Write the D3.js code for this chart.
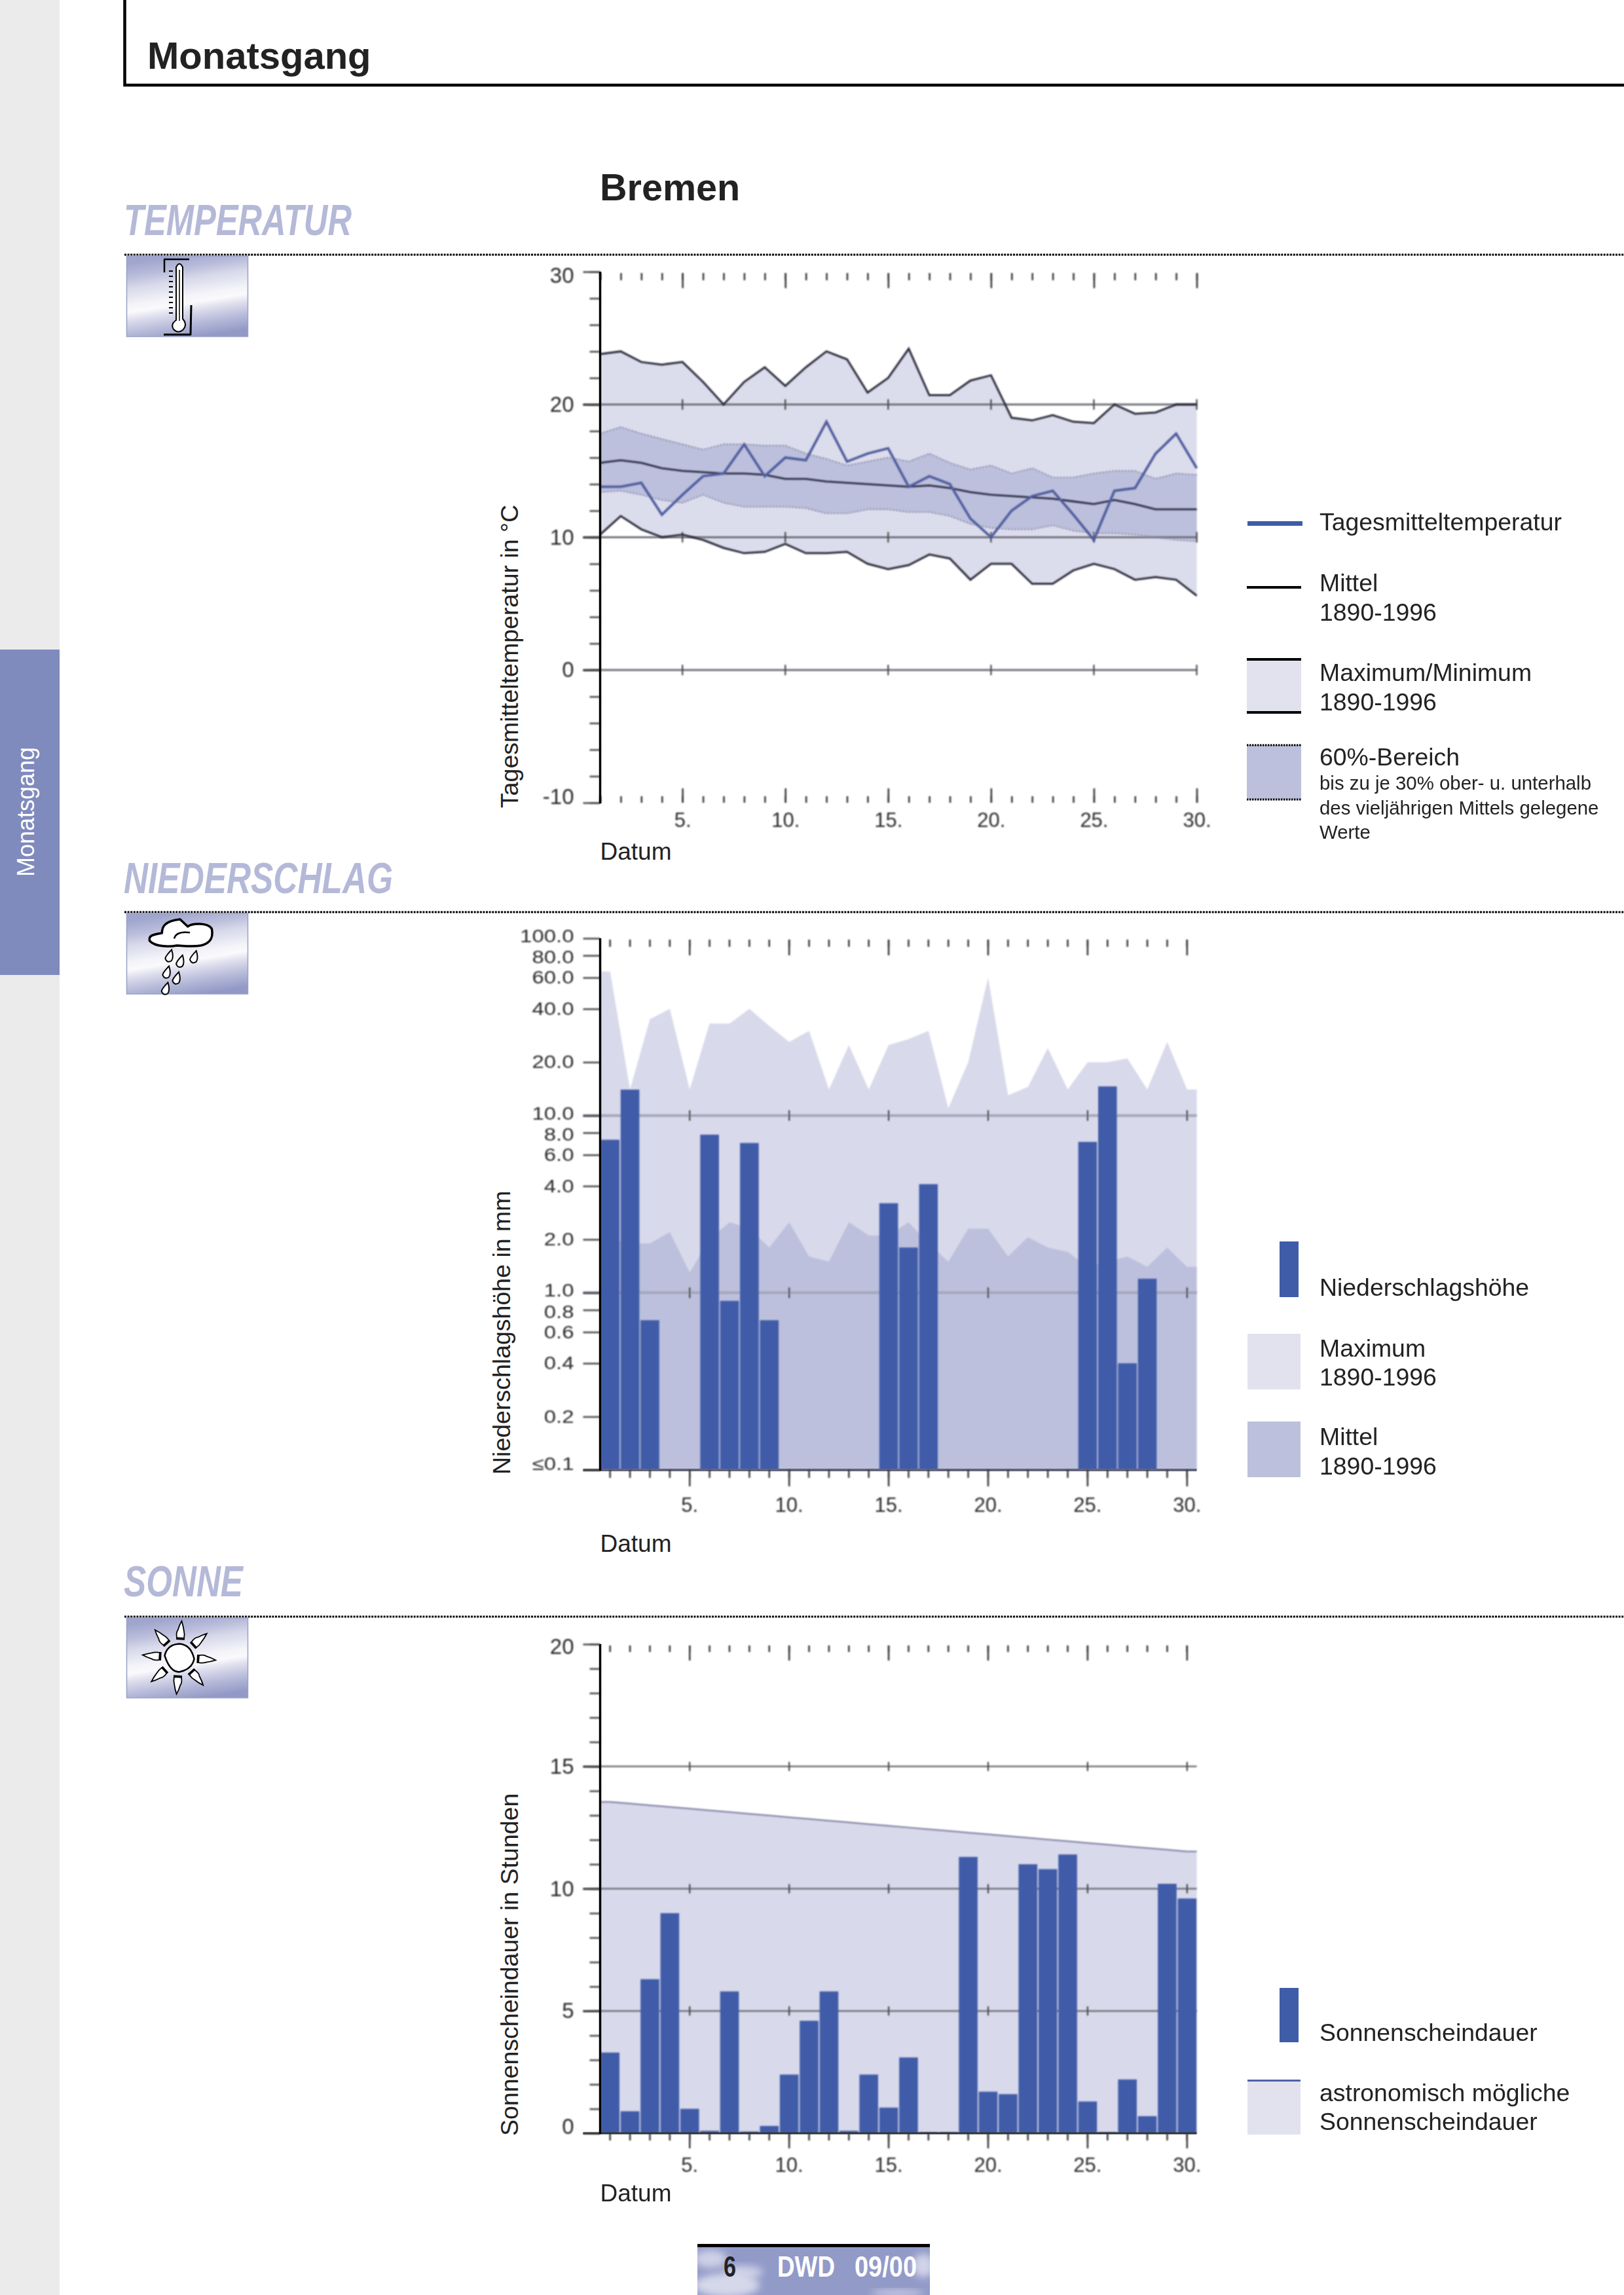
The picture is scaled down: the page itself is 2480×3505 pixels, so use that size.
<!DOCTYPE html>
<html><head><meta charset="utf-8">
<script src="https://cdn.jsdelivr.net/npm/d3@7/dist/d3.min.js"></script>
<style>html,body{margin:0;padding:0;background:#fff}svg{display:block}text{font-family:"Liberation Sans",Arial,sans-serif}</style>
</head><body><div id="c"></div>
<script>
const days=d3.range(1,31);
const majorDays=[5,10,15,20,25,30];
const tempMax=[23.8,24.0,23.2,23.0,23.2,21.7,20.0,21.7,22.8,21.4,22.8,24.0,23.4,20.9,22.0,24.2,20.7,20.7,21.8,22.2,19.0,18.8,19.2,18.7,18.6,20.0,19.3,19.4,20.0,20.0];
const tempMin=[10.2,11.6,10.6,10.0,10.2,9.8,9.2,8.8,8.9,9.5,8.8,8.8,8.9,8.0,7.6,7.9,8.7,8.4,6.8,8.0,8.0,6.5,6.5,7.5,8.0,7.6,6.8,7.0,6.8,5.6];
const tempUpper=[17.8,18.3,17.8,17.4,17.0,16.6,17.0,17.0,16.9,16.9,16.3,15.9,15.4,15.7,16.0,15.7,16.3,15.6,15.1,15.4,14.8,15.2,14.5,14.5,14.8,15.0,15.0,14.4,14.8,14.7];
const tempLower=[13.4,13.5,13.2,12.8,12.6,13.2,12.6,12.3,12.3,12.3,12.2,11.8,11.8,12.1,12.1,11.9,11.9,11.6,11.0,10.7,10.6,10.6,10.9,10.5,10.3,10.3,10.2,10.0,9.8,9.7];
const tempMean=[15.6,15.8,15.6,15.2,15.0,14.9,14.8,14.8,14.7,14.4,14.4,14.2,14.1,14.0,13.9,13.8,13.9,13.7,13.4,13.2,13.1,13.0,12.9,12.7,12.5,12.8,12.5,12.1,12.1,12.1];
const tempDaily=[13.8,13.8,14.1,11.7,13.2,14.6,14.8,17.0,14.6,16.0,15.8,18.7,15.7,16.3,16.7,13.8,14.6,14.0,11.4,10.0,12.0,13.1,13.5,11.7,9.8,13.5,13.7,16.3,17.8,15.2];
const precipMax=[65,14,35,40,14,33,33,40,32,26,30,14,25,14,25,27,30,11,20,60,13,14.5,24,14,20,20,21,14,26,14];
const precipMean=[2.0,1.9,1.9,2.2,1.3,2.0,2.5,2.3,1.8,2.5,1.6,1.5,2.5,2.1,2.1,2.5,1.9,1.5,2.3,2.3,1.6,2.06,1.8,1.7,1.4,1.5,1.6,1.4,1.8,1.4];
const precipBars=[7.3,14,0.7,null,null,7.8,0.9,7.0,0.7,null,null,null,null,null,3.2,1.8,4.1,null,null,null,null,null,null,null,7.1,14.6,0.4,1.2,null,null];
const sunBars=[3.3,0.9,6.3,9.0,1.0,0.1,5.8,0.07,0.3,2.4,4.6,5.8,0.1,2.4,1.05,3.1,0.05,0.05,11.3,1.7,1.6,11.0,10.8,11.4,1.3,0.05,2.2,0.7,10.2,9.6];
const sunAstro=[13.55,13.48,13.41,13.34,13.27,13.2,13.13,13.06,12.99,12.92,12.85,12.78,12.71,12.64,12.57,12.5,12.43,12.36,12.29,12.22,12.15,12.08,12.01,11.94,11.87,11.8,11.73,11.66,11.59,11.52];
const tempTicks=[-10,0,10,20,30];
const tempMinor=d3.range(-10,31,2);
const tempGrid=[0,10,20];
const precipTicks=[0.1,0.2,0.4,0.6,0.8,1,2,4,6,8,10,20,40,60,80,100];
const precipGrid=[1,10];
const sunTicks=[0,5,10,15,20];
const sunMinor=d3.range(0,21);
const sunGrid=[5,10,15];

const C={band:'#bcc0dc',light:'#dcddec',legend:'#e2e2ee',bar:'#3f5ca8',head:'#b5b9d8',tab:'#7f8abd',grid:'#70707a'};
const W=2480,H=3505,axisX=916.5,rightX=1827.5;
const svg=d3.select('#c').append('svg').attr('width',W).attr('height',H).attr('viewBox',`0 0 ${W} ${H}`);
const defs=svg.append('defs');
const blur=defs.append('filter').attr('id','soft').attr('x','-5%').attr('y','-5%').attr('width','110%').attr('height','110%');
blur.append('feGaussianBlur').attr('stdDeviation',0.8);
const blurBig=defs.append('filter').attr('id','cloudy').attr('x','-30%').attr('y','-30%').attr('width','160%').attr('height','160%');
blurBig.append('feGaussianBlur').attr('stdDeviation',6);
const grad=defs.append('linearGradient').attr('id','icon').attr('x1',0.38).attr('y1',0).attr('x2',0.62).attr('y2',1);
[[0,'#a0a5cd'],[0.16,'#b9bcda'],[0.3,'#d8d9ea'],[0.5,'#f4f4f9'],[0.58,'#fafafd'],[0.68,'#dcdcec'],[0.84,'#b4b8d8'],[1,'#9299c6']].forEach(s=>grad.append('stop').attr('offset',s[0]).attr('stop-color',s[1]));

function T(g,x,y,s,size,o={}){
  const t=g.append('text').attr('x',x).attr('y',y).attr('font-size',size).attr('fill',o.fill||'#222').text(s);
  if(o.weight)t.attr('font-weight',o.weight);
  if(o.italic)t.attr('font-style','italic');
  if(o.anchor)t.attr('text-anchor',o.anchor);
  if(o.len)t.attr('textLength',o.len).attr('lengthAdjust','spacingAndGlyphs');
  if(o.rotate)t.attr('transform',`rotate(-90 ${x} ${y})`);
  return t;
}
// page furniture
svg.append('rect').attr('x',0).attr('y',0).attr('width',91).attr('height',H).attr('fill','#ebebeb');
svg.append('rect').attr('x',0).attr('y',992).attr('width',91).attr('height',497).attr('fill',C.tab);
T(svg,52,1339,'Monatsgang',36,{fill:'#fff',rotate:true});
svg.append('path').attr('d',`M190.5 0V130H${W}`).attr('fill','none').attr('stroke','#000').attr('stroke-width',4.5);
T(svg,225,105,'Monatsgang',58,{weight:'bold'});
T(svg,916,306,'Bremen',57.5,{weight:'bold'});
[['TEMPERATUR',359,348,389],['NIEDERSCHLAG',1364,411,1393],['SONNE',2438,182,2469]].forEach(([s,y,len,ly])=>{
  T(svg,189,y,s,66,{fill:C.head,weight:'bold',italic:true,len});
  svg.append('line').attr('x1',190).attr('x2',W).attr('y1',ly).attr('y2',ly).attr('stroke','#000').attr('stroke-width',3).attr('stroke-dasharray','3 1.6');
});
// icons
function iconBox(y0,h){return svg.append('rect').attr('x',193.5).attr('y',y0).attr('width',185).attr('height',h).attr('fill','url(#icon)').attr('stroke','#9aa0c8').attr('stroke-width',1.5);}
iconBox(391,123);iconBox(1395,123);iconBox(2471,122);
function P(d,fill,sw){return svg.append('path').attr('d',d).attr('fill',fill||'none').attr('stroke','#000').attr('stroke-width',sw==null?2.5:sw).attr('stroke-linejoin','round');}
// thermometer
P('M289 396H251V416');P('M292 466L291 511H250',null,3);
P('M269 489V408Q274 398 279 408V487Q287 496 279 504Q272 510 265 503Q260 495 269 489Z','#fff',2);
P('M274 412V490',null,1.5);
d3.range(9).forEach(i=>svg.append('line').attr('x1',258).attr('x2',264).attr('y1',414+i*8).attr('y2',414+i*8).attr('stroke','#000').attr('stroke-width',2));
// cloud
const cl=(x,y)=>`${x/3+160} ${y/3+1290}`;
P(`M${cl(205,430)}C${cl(205,415)} ${cl(230,410)} ${cl(262,405)}C${cl(262,380)} ${cl(270,350)} ${cl(345,342)}L${cl(380,375)}C${cl(400,360)} ${cl(470,355)} ${cl(490,385)}C${cl(497,420)} ${cl(490,450)} ${cl(440,462)}C${cl(400,470)} ${cl(350,462)} ${cl(330,462)}C${cl(300,468)} ${cl(230,470)} ${cl(205,440)}Z`,'#fff',3.5);
P(`M${cl(318,430)}C${cl(325,405)} ${cl(350,398)} ${cl(390,403)}`,null,2.5);
[[297,510],[347,535],[410,515],[285,585],[330,612],[280,660]].forEach(([x,y])=>{
  const px=x/3+160,py=y/3+1290;
  svg.append('path').attr('transform',`translate(${px},${py}) rotate(18)`).attr('d','M0 -10C5 -3 6 3 5 6Q0 12 -5 6C-6 3 -3 -4 0 -10Z').attr('fill','#fff').attr('stroke','#000').attr('stroke-width',2);
});
// sun
const sx=273.5,sy=2531.5;
d3.range(8).forEach(i=>{
  const tr=`translate(${sx},${sy}) rotate(${i*45+3})`;
  svg.append('path').attr('transform',tr).attr('d','M-5 -30Q-7 -38 -4 -42Q-2 -50 1 -56Q4 -48 5 -42Q7 -36 6 -30Z').attr('fill','#fff').attr('stroke','#000').attr('stroke-width',1.8);
  svg.append('line').attr('transform',tr).attr('x1',-6).attr('x2',7).attr('y1',-29).attr('y2',-29).attr('stroke','#000').attr('stroke-width',3.5);
});
svg.append('path').attr('d',`M${sx-22} ${sy-3}Q${sx-18} ${sy-20} ${sx} ${sy-21}Q${sx+18} ${sy-20} ${sx+23} ${sy+2}Q${sx+20} ${sy+18} ${sx} ${sy+22}Q${sx-14} ${sy+22} ${sx-22} ${sy-3}Z`).attr('fill','#fff').attr('stroke','#000').attr('stroke-width',2.5);
// footer
svg.append('rect').attr('x',1065).attr('y',3432).attr('width',355).attr('height',73).attr('fill','#929ac8');
const clip=defs.append('clipPath').attr('id','foot');clip.append('rect').attr('x',1065).attr('y',3432).attr('width',355).attr('height',73);
const fg=svg.append('g').attr('clip-path','url(#foot)');
[[1085,3450,25,14,.7],[1110,3490,50,18,.8],[1135,3470,30,10,.7],[1410,3460,16,18,.75],[1370,3502,40,5,.7]].forEach(([x,y,rx,ry,o])=>fg.append('ellipse').attr('cx',x).attr('cy',y).attr('rx',rx).attr('ry',ry).attr('fill','#e6e7f3').attr('opacity',o).attr('filter','url(#cloudy)'));
svg.append('rect').attr('x',1065).attr('y',3427).attr('width',355).attr('height',5).attr('fill','#000');
T(svg,1105,3477,'6',44,{weight:'bold',len:19});
T(svg,1187,3477,'DWD',44,{weight:'bold',fill:'#fff',len:88});
T(svg,1305,3477,'09/00',44,{weight:'bold',fill:'#fff',len:95});

function yTitle(x,yBottom,s){T(svg,x,yBottom,s,37.5,{rotate:true});}
function datum(y){T(svg,axisX,y,'Datum',37);}
function frame(g,x,y,top,bottom,opt){
  const small=g.append('g').attr('filter','url(#soft)');
  const ax=(gen,ty)=>{const a=small.append('g').attr('transform',`translate(0,${ty})`).call(gen);a.select('.domain').remove();a.selectAll('line').attr('stroke','#333').attr('stroke-width',2.5);return a;};
  ax(d3.axisBottom(x).tickValues(days).tickSize(opt.minorTop).tickFormat(''),top+2);
  ax(d3.axisBottom(x).tickValues(majorDays).tickSize(opt.majorTop).tickFormat(''),top+2);
  const s=opt.innerBottom?-1:1;
  ax(d3.axisBottom(x).tickValues(days).tickSize(s*opt.minorBot).tickFormat(''),bottom);
  ax(d3.axisBottom(x).tickValues(majorDays).tickSize(s*opt.majorBot).tickFormat(''),bottom);
  const lab=small.append('g').attr('transform',`translate(0,${bottom})`).call(d3.axisBottom(x).tickValues(majorDays).tickSize(0).tickPadding(opt.labelPad).tickFormat(d=>d+'.'));
  lab.select('.domain').remove();
  lab.selectAll('text').attr('font-size',31).attr('fill','#2a2a2a').attr('font-family','"Liberation Sans",Arial,sans-serif');
  const yA=small.append('g').attr('transform',`translate(${axisX},0)`).call(d3.axisLeft(y).tickValues(opt.yTicks).tickSize(26).tickPadding(14).tickFormat(opt.yFormat));
  yA.select('.domain').remove();
  yA.selectAll('line').attr('stroke','#444').attr('stroke-width',2.5);
  yA.selectAll('text').attr('font-size',opt.yFont).attr('fill','#2a2a2a').attr('font-family','"Liberation Sans",Arial,sans-serif')
    .attr('transform',d=>`translate(0,${(opt.labelShift&&opt.labelShift[d])||0})`);
  if(opt.yStretch){
    yA.selectAll('text').each(function(){
      d3.select(this).attr('textLength',this.getComputedTextLength()*opt.yStretch).attr('lengthAdjust','spacingAndGlyphs');
    });
  }
  if(opt.yMinor){
    const m=small.append('g').attr('transform',`translate(${axisX},0)`).call(d3.axisLeft(y).tickValues(opt.yMinor).tickSize(16).tickFormat(''));
    m.select('.domain').remove();m.selectAll('line').attr('stroke','#444').attr('stroke-width',2.5);
  }
  g.append('line').attr('x1',axisX).attr('x2',axisX).attr('y1',top).attr('y2',bottom+1).attr('stroke','#000').attr('stroke-width',3.5);
}
function grid(g,x,y,vals,color,sw,cross,x0){
  const gg=g.append('g').attr('filter','url(#soft)');
  const off=x.bandwidth?x.bandwidth()/2:0;
  vals.forEach(v=>{
    gg.append('line').attr('x1',x0).attr('x2',rightX).attr('y1',y(v)).attr('y2',y(v)).attr('stroke',color).attr('stroke-width',sw);
    majorDays.forEach(d=>gg.append('line').attr('x1',x(d)+off).attr('x2',x(d)+off).attr('y1',y(v)-cross).attr('y2',y(v)+cross).attr('stroke','#444').attr('stroke-width',2.2));
  });
}

// ===== Temperature =====
{
  const x=d3.scaleLinear().domain([1,30]).range([axisX,rightX]);
  const y=d3.scaleLinear().domain([-10,30]).range([1226,415]);
  const g=svg.append('g');
  const rows=days.map((d,i)=>({d,mx:tempMax[i],mn:tempMin[i],up:tempUpper[i],lo:tempLower[i],me:tempMean[i],da:tempDaily[i]}));
  const area=(a,b)=>d3.area().x(r=>x(r.d)).y0(r=>y(r[a])).y1(r=>y(r[b]));
  const line=k=>d3.line().x(r=>x(r.d)).y(r=>y(r[k]));
  const m=g.append('g').attr('filter','url(#soft)');
  m.append('path').datum(rows).attr('d',area('mn','mx')).attr('fill',C.light);
  m.append('path').datum(rows).attr('d',area('lo','up')).attr('fill',C.band);
  grid(g,x,y,tempGrid,C.grid,3,8,axisX-26);
  const m2=g.append('g').attr('filter','url(#soft)');
  [['mx','#2c2c3a',3],['mn','#2c2c3a',3],['me','#2c2c44',2.8]].forEach(([k,c,w])=>m2.append('path').datum(rows).attr('d',line(k)).attr('fill','none').attr('stroke',c).attr('stroke-width',w));
  ['up','lo'].forEach(k=>m2.append('path').datum(rows).attr('d',line(k)).attr('fill','none').attr('stroke','#8f92b0').attr('stroke-width',2.2).attr('stroke-dasharray','3 2'));
  m2.append('path').datum(rows).attr('d',line('da')).attr('fill','none').attr('stroke','#515d9e').attr('stroke-width',3.8);
  frame(g,x,y,415,1226,{minorTop:11,majorTop:23,minorBot:10,majorBot:22,innerBottom:true,labelPad:15,yTicks:tempTicks,yFormat:d=>d,yFont:33,yMinor:tempMinor,labelShift:{30:6,'-10':-9}});
  yTitle(791,1234,'Tagesmitteltemperatur in \u00b0C');
  datum(1313);
}
const xBand=d3.scaleBand().domain(days).range([axisX,1828]).paddingInner(0.06).paddingOuter(0.03);
const centre=d=>xBand(d)+xBand.bandwidth()/2;
function extended(vals){
  const pts=days.map((d,i)=>({px:centre(d),v:vals[i]}));
  return [{px:axisX,v:vals[0]},...pts,{px:1827.5,v:vals[vals.length-1]}];
}
// ===== Precipitation =====
{
  const y=d3.scaleLog().domain([0.1,100]).range([2245,1433]);
  const g=svg.append('g');
  const ar=d3.area().x(p=>p.px).y0(y(0.1)).y1(p=>y(p.v));
  const m=g.append('g').attr('filter','url(#soft)');
  m.append('path').datum(extended(precipMax)).attr('d',ar).attr('fill','#d8d9ea');
  m.append('path').datum(extended(precipMean)).attr('d',ar).attr('fill',C.band);
  grid(g,xBand,y,precipGrid,'#a6a6ba',4,8,axisX-26);
  g.append('g').attr('filter','url(#soft)').selectAll('rect').data(days.filter((d,i)=>precipBars[i]!=null)).join('rect')
    .attr('x',d=>xBand(d)).attr('width',xBand.bandwidth()).attr('y',d=>y(precipBars[d-1])).attr('height',d=>y(0.1)-y(precipBars[d-1])).attr('fill',C.bar);
  g.append('line').attr('x1',axisX-26).attr('x2',rightX).attr('y1',y(0.1)).attr('y2',y(0.1)).attr('stroke','#66667a').attr('stroke-width',4);
  frame(g,xBand,y,1433,2245,{minorTop:11,majorTop:24,minorBot:12,majorBot:25,labelPad:42,yTicks:precipTicks,yFormat:d=>d===0.1?'\u22640.1':d3.format('.1f')(d),yFont:27,yStretch:1.22,labelShift:{0.1:-9,100:-3,80:3,10:-3,8:3,1:-3,0.8:3}});
  yTitle(779,2252,'Niederschlagsh\u00f6he in mm');
  datum(2370);
}
// ===== Sunshine =====
{
  const y=d3.scaleLinear().domain([0,20]).range([3258,2511]);
  const g=svg.append('g');
  const m=g.append('g').attr('filter','url(#soft)');
  const pts=extended(sunAstro);
  m.append('path').datum(pts).attr('d',d3.area().x(p=>p.px).y0(y(0)).y1(p=>y(p.v))).attr('fill','#d8d9ea');
  m.append('path').datum(pts).attr('d',d3.line().x(p=>p.px).y(p=>y(p.v))).attr('fill','none').attr('stroke','#8484a8').attr('stroke-width',2.5);
  grid(g,xBand,y,sunGrid,C.grid,2.6,7,axisX-26);
  g.append('g').attr('filter','url(#soft)').selectAll('rect').data(days).join('rect')
    .attr('x',d=>xBand(d)).attr('width',xBand.bandwidth()).attr('y',d=>y(sunBars[d-1])).attr('height',d=>y(0)-y(sunBars[d-1])).attr('fill',C.bar);
  g.append('line').attr('x1',axisX-26).attr('x2',rightX).attr('y1',y(0)).attr('y2',y(0)).attr('stroke','#333').attr('stroke-width',3);
  frame(g,xBand,y,2511,3258,{minorTop:10,majorTop:23,minorBot:11,majorBot:23,labelPad:37,yTicks:sunTicks,yFormat:d=>d,yFont:33,yMinor:sunMinor,labelShift:{20:4,0:-10}});
  yTitle(791,3262,'Sonnenscheindauer in Stunden');
  datum(3362);
}
// ===== Legends =====
const lx=2015,LF=37.4,SF=29.4;
svg.append('rect').attr('x',1905).attr('y',796).attr('width',84).attr('height',7).attr('fill',C.bar);
T(svg,lx,810,'Tagesmitteltemperatur',LF);
svg.append('rect').attr('x',1904).attr('y',895).attr('width',83).attr('height',4).attr('fill','#000');
T(svg,lx,903,'Mittel',LF);T(svg,lx,948,'1890-1996',LF);
svg.append('rect').attr('x',1904).attr('y',1005).attr('width',83).attr('height',85).attr('fill',C.legend);
[1005,1086].forEach(v=>svg.append('rect').attr('x',1904).attr('y',v).attr('width',83).attr('height',4).attr('fill','#000'));
T(svg,lx,1040,'Maximum/Minimum',LF);T(svg,lx,1085,'1890-1996',LF);
svg.append('rect').attr('x',1904).attr('y',1138).attr('width',83).attr('height',83).attr('fill',C.band);
[1138,1221].forEach(v=>svg.append('line').attr('x1',1904).attr('x2',1987).attr('y1',v).attr('y2',v).attr('stroke','#000').attr('stroke-width',3).attr('stroke-dasharray','2.5 1.5'));
T(svg,lx,1169,'60%-Bereich',LF);
T(svg,lx,1206,'bis zu je 30% ober- u. unterhalb',SF);
T(svg,lx,1244,'des vielj\u00e4hrigen Mittels gelegene',SF);
T(svg,lx,1281,'Werte',SF);
svg.append('rect').attr('x',1954).attr('y',1896).attr('width',29).attr('height',85).attr('fill',C.bar);
T(svg,lx,1979,'Niederschlagsh\u00f6he',LF);
svg.append('rect').attr('x',1905).attr('y',2037).attr('width',81).attr('height',85).attr('fill',C.legend);
T(svg,lx,2072,'Maximum',LF);T(svg,lx,2116,'1890-1996',LF);
svg.append('rect').attr('x',1905).attr('y',2171).attr('width',81).attr('height',85).attr('fill',C.band);
T(svg,lx,2207,'Mittel',LF);T(svg,lx,2252,'1890-1996',LF);
svg.append('rect').attr('x',1954).attr('y',3036).attr('width',29).attr('height',83).attr('fill',C.bar);
T(svg,lx,3117,'Sonnenscheindauer',LF);
svg.append('rect').attr('x',1905).attr('y',3177).attr('width',81).attr('height',83).attr('fill',C.legend);
svg.append('rect').attr('x',1905).attr('y',3176).attr('width',81).attr('height',3).attr('fill','#5060a8');
T(svg,lx,3209,'astronomisch m\u00f6gliche',LF);T(svg,lx,3253,'Sonnenscheindauer',LF);
</script></body></html>
